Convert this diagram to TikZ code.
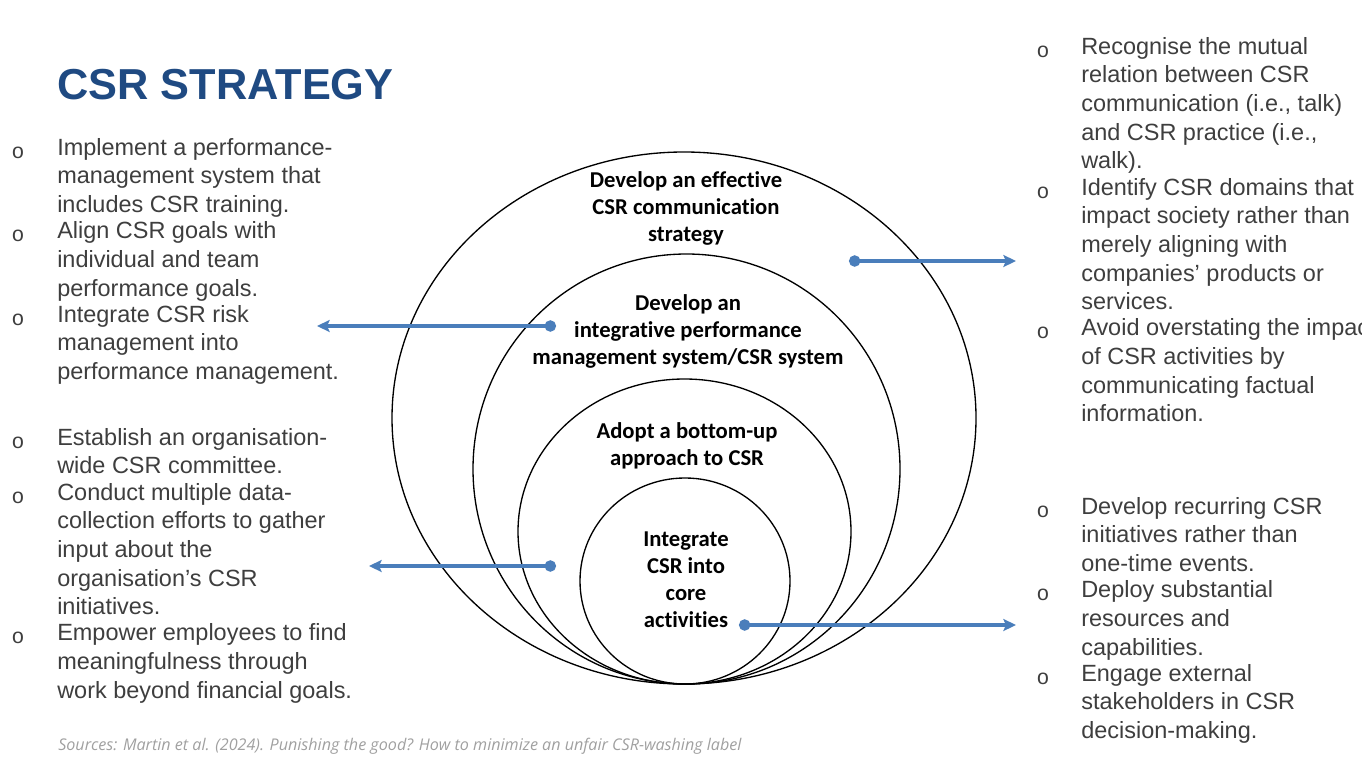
\documentclass[tikz,border=0pt]{standalone}
\usepackage{fontspec}
\setmainfont{Liberation Sans}
\newfontfamily\ringfam[Ligatures=NoCommon]{Carlito}
\newfontfamily\notefam{Open Sans}
\newfontfamily\bulfam{Liberation Mono}
\usetikzlibrary{arrows.meta}

\definecolor{titleblue}{RGB}{31,74,130}
\definecolor{textgray}{RGB}{62,62,62}
\definecolor{linkblue}{RGB}{74,126,187}
\definecolor{notegray}{RGB}{160,160,160}

\newcommand\itemfont{\fontsize{17.6}{21.5}\selectfont}
\newcommand\ringfont{\ringfam\bfseries\fontsize{17}{20.25}\selectfont}
\newcommand\titlefont{\bfseries\fontsize{32.5}{38}\selectfont}
\newcommand\notefont{\notefam\itshape\fontsize{12.1}{14}\selectfont}

\begin{document}
\begin{tikzpicture}[
  x=0.75pt, y=-0.75pt,
  ring/.style={draw, line width=1pt},
  ringtext/.style={font=\ringfont, align=center, inner sep=0pt,
    execute at begin node=\strut, execute at end node=\strut},
  item/.style={anchor=north west, inner sep=0pt, align=left, font=\itemfont,
    text=textgray, execute at begin node=\strut, execute at end node=\strut},
  bul/.style={anchor=north, inner sep=0pt, font=\itemfont, text=textgray,
    execute at begin node={\strut\bulfam\fontsize{16}{16}\selectfont}},
  link/.style={linkblue, line width=2.4pt,
    {Circle[length=8.5pt]}-{Stealth[length=9.5pt,width=9pt,inset=2pt]}}
]
  \useasboundingbox (0,0) rectangle (1362,767);

  % title and source
  \node[anchor=base west, inner sep=0pt, font=\titlefont, text=titleblue] (title) at (57,99) {CSR STRATEGY};
  \node[anchor=west, inner sep=0pt, font=\notefont, text=notegray] (source) at (58,746)
    {Sources: Martin et al. (2024). Punishing the good? How to minimize an unfair CSR-washing label};

  % nested rings
  \draw[ring] (684,418) ellipse [x radius=292, y radius=266];
  \draw[ring] (686.5,469) ellipse [x radius=213.5, y radius=215];
  \draw[ring] (684.5,531.5) ellipse [x radius=166.5, y radius=152.5];
  \draw[ring] (685,581) ellipse [x radius=105, y radius=103];

  % ring labels
  \node[ringtext] (t-comm) at (686,211) {Develop an effective\\CSR communication\\strategy};
  \node[ringtext] (t-perf) at (688,334) {Develop an\\integrative performance\\management system/CSR system};
  \node[ringtext] (t-bottom) at (687,448) {Adopt a bottom-up\\approach to CSR};
  \node[ringtext] (t-core) at (686,584) {Integrate\\CSR into\\core\\activities};

  % left items, upper group
  \node[item] (l1) at (57,138) {Implement a performance-\\management system that\\includes CSR training.};
  \node[item] (l2) at (l1.south west) {Align CSR goals with\\individual and team\\performance goals.};
  \node[item] (l3) at (l2.south west) {Integrate CSR risk\\management into\\performance management.};

  % left items, lower group
  \node[item] (l4) at (57,428) {Establish an organisation-\\wide CSR committee.};
  \node[item] (l5) at (l4.south west) {Conduct multiple data-\\collection efforts to gather\\input about the\\organisation’s CSR\\initiatives.};
  \node[item] (l6) at (l5.south west) {Empower employees to find\\meaningfulness through\\work beyond financial goals.};

  % right items, upper group
  \node[item] (r1) at (1081,37) {Recognise the mutual\\relation between CSR\\communication (i.e., talk)\\and CSR practice (i.e.,\\walk).};
  \node[item] (r2) at (r1.south west) {Identify CSR domains that\\impact society rather than\\merely aligning with\\companies’ products or\\services.};
  \node[item] (r3) at (r2.south west) {Avoid overstating the impact\\of CSR activities by\\communicating factual\\information.};

  % right items, lower group
  \node[item] (r4) at (1081,497) {Develop recurring CSR\\initiatives rather than\\one-time events.};
  \node[item] (r5) at (r4.south west) {Deploy substantial\\resources and\\capabilities.};
  \node[item] (r6) at (r5.south west) {Engage external\\stakeholders in CSR\\decision-making.};

  % bullets
  \foreach \n in {l1,l2,l3,l4,l5,l6}
    \node[bul] (b-\n) at ([xshift=-29.25pt]\n.north west) {o};
  \foreach \n in {r1,r2,r3,r4,r5,r6}
    \node[bul] (b-\n) at ([xshift=-28.5pt]\n.north west) {o};

  % links
  \coordinate (comm-dot) at (849,261);
  \coordinate (comm-end) at (1016,261);
  \coordinate (perf-dot) at (556,326);
  \coordinate (perf-end) at (317,326);
  \coordinate (bottom-dot) at (556,566);
  \coordinate (bottom-end) at (369,566);
  \coordinate (core-dot) at (739,625);
  \coordinate (core-end) at (1016,625);

  \draw[link] (comm-dot) -- (comm-end);
  \draw[link] (perf-dot) -- (perf-end);
  \draw[link] (bottom-dot) -- (bottom-end);
  \draw[link] (core-dot) -- (core-end);

\end{tikzpicture}
\end{document}
